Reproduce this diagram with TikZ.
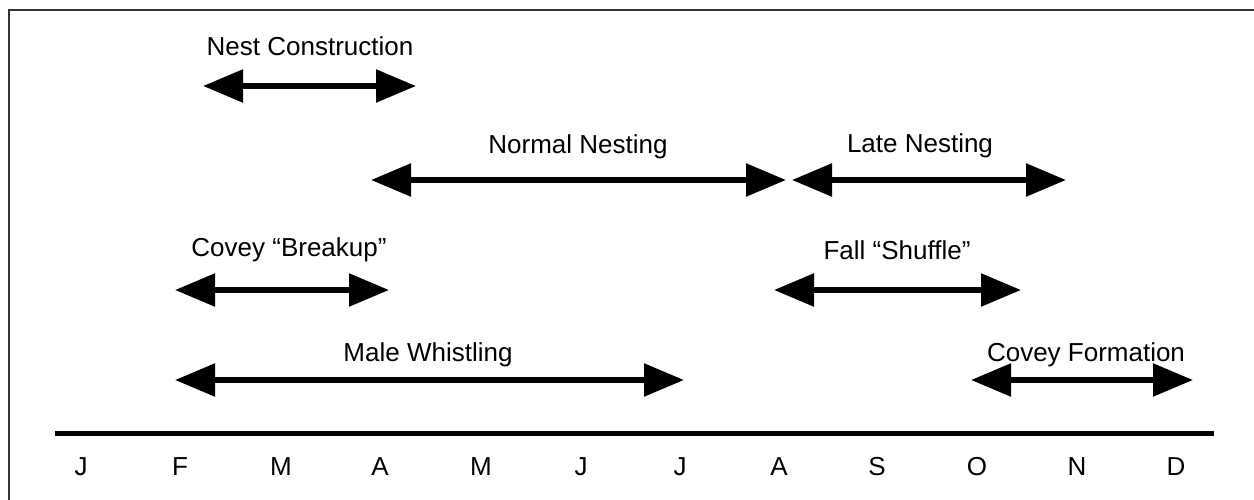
\documentclass[tikz,border=0pt]{standalone}
\usepackage{fontspec}
\setmainfont{Liberation Sans}
\usetikzlibrary{arrows.meta}
\begin{document}
\begin{tikzpicture}[x=1pt,y=-1pt,
  lbl/.style={font=\fontsize{26}{30}\selectfont, inner sep=0pt},
  mon/.style={font=\fontsize{26}{30}\selectfont, inner sep=0pt},
  span/.style={line width=5.5pt, {Triangle[length=40pt,width=32pt]}-{Triangle[length=40pt,width=32pt]}},
  frame/.style={draw=black!80, line width=2pt}]
\useasboundingbox (0,0) rectangle (1254,500);
\fill[white] (0,0) rectangle (1254,500);
% frame
\coordinate (f1) at (9,500);
\coordinate (f2) at (9,10);
\coordinate (f3) at (1254,10);
\draw[frame] (f1) -- (f2) -- (f3);
% axis
\coordinate (ax1) at (55,433);
\coordinate (ax2) at (1214,433);
\draw[line width=5pt] (ax1) -- (ax2);
% months
\foreach \m/\x [count=\i] in {J/81,F/180,M/281,A/380,M/481,J/581,J/680,A/779,S/877,O/977,N/1077,D/1176}
  \node[mon] (m\i) at (\x,467) {\m};
% Nest Construction
\node[lbl] (t1) at (310,46) {Nest Construction};
\coordinate (a1) at (203,86); \coordinate (b1) at (416,86);
\draw[span] (a1) -- (b1);
% Normal Nesting
\node[lbl] (t2) at (578,147) {Normal Nesting};
\coordinate (a2) at (371,180); \coordinate (b2) at (786,180);
\draw[span] (a2) -- (b2);
% Late Nesting
\node[lbl] (t3) at (920,146) {Late Nesting};
\coordinate (a3) at (792,180); \coordinate (b3) at (1066,180);
\draw[span] (a3) -- (b3);
% Covey Breakup
\node[lbl] (t4) at (289,250) {Covey “Breakup”};
\coordinate (a4) at (175,290); \coordinate (b4) at (389,290);
\draw[span] (a4) -- (b4);
% Fall Shuffle
\node[lbl] (t5) at (897,250) {Fall “Shuffle”};
\coordinate (a5) at (774,290); \coordinate (b5) at (1021,290);
\draw[span] (a5) -- (b5);
% Male Whistling
\node[lbl] (t6) at (428,355) {Male Whistling};
\coordinate (a6) at (175,380); \coordinate (b6) at (684,380);
\draw[span] (a6) -- (b6);
% Covey Formation
\node[lbl] (t7) at (1086,355) {Covey Formation};
\coordinate (a7) at (971,380); \coordinate (b7) at (1193,380);
\draw[span] (a7) -- (b7);
\end{tikzpicture}
\end{document}
